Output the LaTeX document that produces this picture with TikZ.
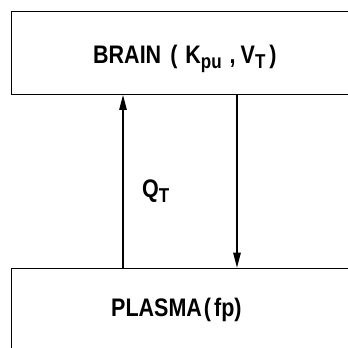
\documentclass[tikz,border=0pt]{standalone}
\usepackage{fontspec}
\setmainfont{Liberation Sans}
\usetikzlibrary{arrows.meta}
\newcommand{\lowtxt}[1]{\raisebox{-0.35ex}{\fontsize{17}{17}\selectfont #1}}
\newcommand{\tall}[1]{\scalebox{1}[1.18]{#1}}
\begin{document}
\begin{tikzpicture}[x=1pt,y=1pt,
  boxstyle/.style={draw, line width=1.3pt, rectangle, inner sep=0pt, anchor=south west},
  lbl/.style={font=\fontsize{21.5}{26}\bfseries, inner sep=0pt},
  flow/.style={line width=1.2pt, -{Triangle[length=15pt,width=7.5pt]}}]
\useasboundingbox (0,0) rectangle (348,348);
\clip (0,0) rectangle (348,348);
\node[boxstyle, minimum width=360pt, minimum height=83pt] (brain) at (11,253) {};
\node[boxstyle, minimum width=360pt, minimum height=100pt] (plasma) at (11,-21) {};
\node[lbl, anchor=base west] (brainlbl) at (93,284) {\tall{BRAIN\hspace{9pt}(\hspace{8pt}K\lowtxt{pu}\hspace{8pt},\hspace{5pt}V\lowtxt{T}\hspace{4pt})}};
\node[lbl, anchor=base west] (plasmalbl) at (111,31) {\tall{PLASMA\hspace{2pt}(\hspace{3pt}fp)}};
\node[lbl, anchor=base west] (q) at (142,150) {\tall{Q\lowtxt{T}}};
\coordinate (upx) at (123,0);
\coordinate (downx) at (237,0);
\draw[flow] (plasma.north -| upx) -- (brain.south -| upx);
\draw[flow] (brain.south -| downx) -- (plasma.north -| downx);
\end{tikzpicture}
\end{document}
